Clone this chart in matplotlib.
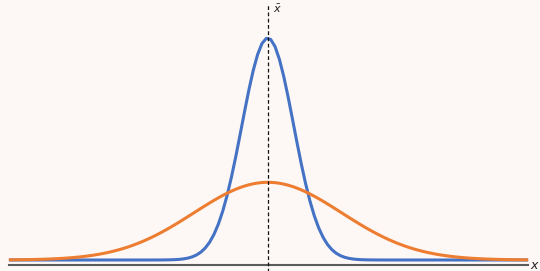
from matplotlib import pyplot as plt
import numpy as np

x_mean = 0.0
sd_narrow = 0.35
sd_wide = 1.0
x_lo, x_hi = -3.5, 3.52


def normal_pdf(x, mu, sd):
    return np.exp(-(x - mu) ** 2 / (2 * sd ** 2)) / (sd * np.sqrt(2 * np.pi))


xs = np.linspace(x_lo, x_hi, 120)
y_narrow = normal_pdf(xs, x_mean, sd_narrow)
y_wide = normal_pdf(xs, x_mean, sd_wide)

bg = '#fdf8f5'
fig = plt.figure(figsize=(5.4, 2.71), dpi=100, facecolor=bg)
ax = fig.add_axes([0, 0, 1, 1])
ax.set_facecolor(bg)

# orange sits on top of blue in the original
ax.plot(xs, y_narrow, color='#4472c4', lw=2.2, solid_capstyle='butt')
ax.plot(xs, y_wide, color='#ed7d31', lw=2.2, solid_capstyle='butt')

# x axis line and mean line
ax.plot([x_lo, 3.52], [-0.026, -0.026], color='#5a5a5a', lw=1.5)
ax.plot([x_mean, x_mean], [-0.06, 1.31], color='#111111', lw=0.9, ls=(0, (3, 2)))
ax.text(3.55, -0.026, '$x$', fontsize=9, va='center', ha='left', color='#222222')
ax.text(x_mean + 0.07, 1.29, r'$\bar{x}$', fontsize=8, va='center', ha='left', color='#222222')

ax.set_xlim(-3.62, 3.68)
ax.set_ylim(-0.0565, 1.335)
ax.axis('off')

fig.savefig('out.png', dpi=100, facecolor=bg)
